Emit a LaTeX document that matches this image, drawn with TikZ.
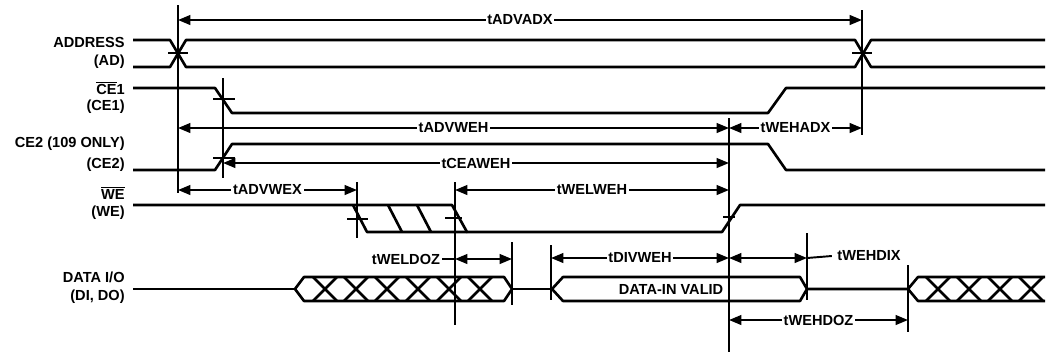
\documentclass[tikz,border=0pt]{standalone}
\usepackage{fontspec}
\setmainfont{Liberation Sans}
\usetikzlibrary{arrows.meta}

\begin{document}
\begin{tikzpicture}[x=0.02cm, y=-0.02cm,
    sig/.style={line width=1.5pt, line join=round},
    tim/.style={line width=1.1pt},
    dim/.style={line width=1.1pt, {Triangle[length=7pt,width=5.5pt]}-{Triangle[length=7pt,width=5.5pt]}},
    lbl/.style={font=\fontsize{8.3}{10}\selectfont\bfseries, fill=white, inner sep=1pt},
    signame/.style={font=\fontsize{8.3}{10}\selectfont\bfseries, anchor=east, inner sep=0pt}]

    %% Background
    \draw[draw=none] (0,0) rectangle (1053,353);

    % Signal names
    \node[signame] (adr)  at (125,42)  {ADDRESS};
    \node[signame] (adrb) at (125,62)  {(AD)};
    \node[signame] (ceo)  at (125,88)  {$\overline{\hbox{CE}}$1};
    \node[signame] (ceob) at (125,107) {(CE1)};
    \node[signame] (cet)  at (125,144) {CE2 (109 ONLY)};
    \node[signame] (cetb) at (125,165) {(CE2)};
    \node[signame] (we)   at (125,193) {$\overline{\hbox{WE}}$};
    \node[signame] (web)  at (125,213) {(WE)};
    \node[signame] (dio)  at (125,277) {DATA I/O};
    \node[signame] (diob) at (125,297) {(DI, DO)};

    % ADDRESS
    \draw[sig] (133,40) -- (170,40) -- (186,67) -- (855,67) -- (871,40) -- (1045,40);
    \draw[sig] (133,67) -- (170,67) -- (186,40) -- (855,40) -- (871,67) -- (1045,67);

    % CE1 and CE2
    \draw[sig] (133,88) -- (215,88) -- (232,113) -- (768,113) -- (786,88) -- (1045,88);
    \draw[sig] (133,170) -- (215,170) -- (232,144) -- (768,144) -- (786,170) -- (1045,170);

    % WE
    \draw[sig] (133,205) -- (452,205) -- (467,232) -- (722,232) -- (740,205) -- (1045,205);
    \draw[sig] (353,205) -- (367,232) -- (467,232);
    \foreach \x in {388,417}
        \draw[sig] (\x,205) -- ++(14,27);

    % DATA I/O
    \draw[sig] (133,289) -- (295,289);
    \draw[sig] (295,289) -- (304,277) -- (504,277) -- (512,289)
        -- (504,301) -- (304,301) -- cycle;
    \foreach \c in {325,356,387,418,449,480}
        \draw[sig] (\c-12,277) -- (\c+12,301) (\c-12,301) -- (\c+12,277);
    \draw[sig] (512,289) -- (552,289);
    \draw[sig] (552,289) -- (563,277) -- (800,277) -- (807,289)
        -- (800,301) -- (563,301) -- cycle;
    \draw[sig] (807,289) -- (908,289) -- (918,277) -- (1045,277);
    \draw[sig] (908,289) -- (918,301) -- (1045,301);
    \foreach \c in {938,969,1000,1031}
        \draw[sig] (\c-12,277) -- (\c+12,301) (\c-12,301) -- (\c+12,277);
    \node[font=\fontsize{8.3}{10}\selectfont\bfseries] (valid) at (671,289) {DATA-IN VALID};

    % Reference lines
    \draw[tim] (178,5) -- (178,193);
    \draw[tim] (862,10) -- (862,135);
    \draw[tim] (223,78) -- (223,178);
    \draw[tim] (357,182) -- (357,238);
    \draw[tim] (455,182) -- (455,325);
    \draw[tim] (729,118) -- (729,352);
    \draw[tim] (512,242) -- (512,305);
    \draw[tim] (551,245) -- (551,300);
    \draw[tim] (807,233) -- (807,300);
    \draw[tim] (908,265) -- (908,332);

    % Ticks
    \draw[tim]
    (168,53) -- (188,53)
    (852,53) -- (872,53)
    (213,99) -- (235,99)
    (213,158) -- (235,158)
    (347,219) -- (368,219)
    (445,218) -- (462,218)
    (723,217) -- (735,217)
    ;

    % Timings
    \draw[dim] (178,20) -- node[lbl] (advadx) {tADVADX} (862,20);
    \draw[dim] (178,128) -- node[lbl] (advweh) {tADVWEH} (729,128);
    \draw[dim] (729,128) -- node[lbl] (wehadx) {tWEHADX} (862,128);
    \draw[dim] (223,163) -- node[lbl] (ceaweh) {tCEAWEH} (729,163);
    \draw[dim] (178,190) -- node[lbl] (advwex) {tADVWEX} (357,190);
    \draw[dim] (455,190) -- node[lbl] (welweh) {tWELWEH} (729,190);
    \draw[dim] (455,259) -- (512,259);
    \node[lbl] (weldoz) at (406,259) {tWELDOZ};
    \draw[tim] (weldoz.east) -- (455,259);
    \draw[dim] (551,258) -- node[lbl] (divweh) {tDIVWEH} (729,258);
    \draw[dim] (729,258) -- (807,258);
    \node[lbl, inner sep=3pt] (wehdix) at (869,256) {tWEHDIX};
    \draw[tim] (807,258) -- (wehdix.west);
    \draw[dim] (729,320) -- node[lbl] (wehdoz) {tWEHDOZ} (908,320);

\end{tikzpicture}
\end{document}
